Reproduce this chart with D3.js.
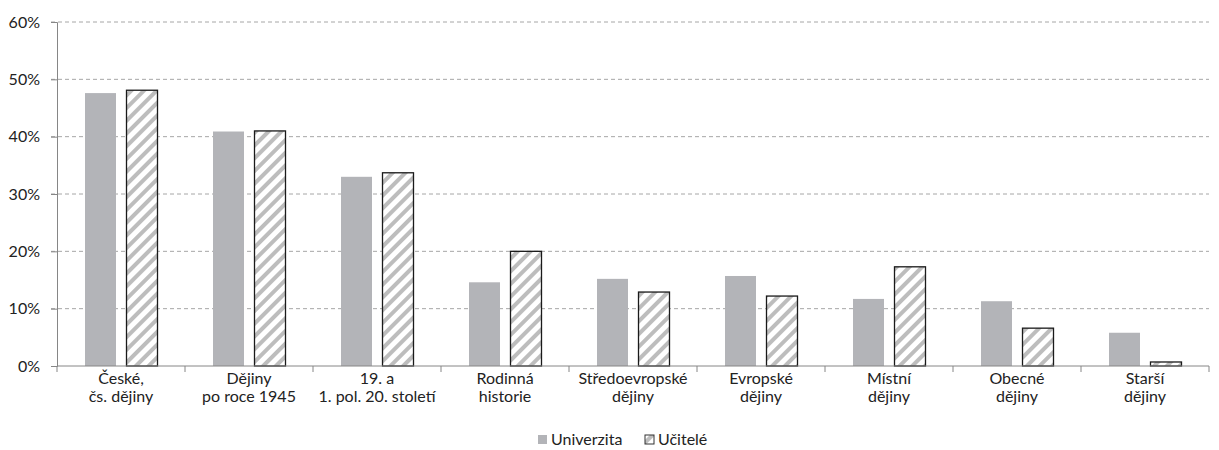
<!DOCTYPE html>
<html>
<head>
<meta charset="utf-8">
<script src="https://cdn.jsdelivr.net/npm/d3@7"></script>
<style>
  body { margin: 0; background: #fff; }
  svg { font-family: Lato, "Open Sans", sans-serif; }
</style>
</head>
<body>
<div id="chart"></div>
<script>
// data
var categories = [
  ["České,", "čs. dějiny"],
  ["Dějiny", "po roce 1945"],
  ["19. a", "1. pol. 20. století"],
  ["Rodinná", "historie"],
  ["Středoevropské", "dějiny"],
  ["Evropské", "dějiny"],
  ["Místní", "dějiny"],
  ["Obecné", "dějiny"],
  ["Starší", "dějiny"]
];
var univerzita = [47.6, 40.9, 33.0, 14.6, 15.2, 15.7, 11.7, 11.3, 5.8];
var ucitele = [48.1, 41.0, 33.7, 20.0, 12.9, 12.2, 17.3, 6.6, 0.7];
var seriesNames = ["Univerzita", "Učitelé"];
var yTicks = [0, 10, 20, 30, 40, 50, 60];

var tot_width = 1219, tot_height = 450;
var margin = {top: 22, right: 10, bottom: 84, left: 57};
var fs = 16;

var svg = d3.select("#chart").append("svg")
    .attr("width", tot_width).attr("height", tot_height);
var width = tot_width - margin.left - margin.right,
    height = tot_height - margin.top - margin.bottom;

var defs = svg.append("defs");
var pat = defs.append("pattern")
    .attr("id", "hatch")
    .attr("patternUnits", "userSpaceOnUse")
    .attr("width", 9).attr("height", 9)
    .attr("patternTransform", "rotate(45)");
pat.append("rect").attr("width", 9).attr("height", 9).attr("fill", "#fff");
pat.append("line")
    .attr("x1", 2).attr("y1", 0).attr("x2", 2).attr("y2", 9)
    .attr("stroke", "#bdbdbd").attr("stroke-width", 4);

var g = svg.append("g")
    .attr("transform", "translate(" + margin.left + "," + margin.top + ")");

var x = d3.scaleBand()
    .domain(d3.range(categories.length))
    .range([0, width]);

var y = d3.scaleLinear()
    .domain([0, 60])
    .range([height, 0]);

// gridlines
g.selectAll("line.grid")
  .data(yTicks.filter(function(d) { return d > 0; }))
  .enter().append("line")
    .attr("class", "grid")
    .attr("x1", -6).attr("x2", width)
    .attr("y1", function(d) { return y(d); })
    .attr("y2", function(d) { return y(d); })
    .attr("stroke", "#a6a6a6")
    .attr("stroke-dasharray", "4,3");

// y axis
var yAxis = g.append("g")
    .call(d3.axisLeft(y).tickValues(yTicks).tickSize(6).tickPadding(11)
      .tickFormat(function(d) { return d + "%"; }));
yAxis.select(".domain").attr("stroke", "#868686");
yAxis.selectAll(".tick line").attr("stroke", "#868686");
yAxis.selectAll("text").attr("font-size", fs).attr("fill", "#222")
    .attr("font-family", "Lato, sans-serif");

var barW = 32;

g.selectAll("rect.univ")
  .data(univerzita)
  .enter().append("rect")
    .attr("class", "univ")
    .attr("x", function(d, i) { return x(i) + x.bandwidth() / 2 - 36; })
    .attr("width", barW - 1)
    .attr("y", function(d) { return y(d); })
    .attr("height", function(d) { return height - y(d); })
    .attr("fill", "#b3b4b8");

g.selectAll("rect.ucit")
  .data(ucitele)
  .enter().append("rect")
    .attr("class", "ucit")
    .attr("x", function(d, i) { return x(i) + x.bandwidth() / 2 + 5.5; })
    .attr("width", barW - 1)
    .attr("y", function(d) { return y(d); })
    .attr("height", function(d) { return height - y(d); })
    .attr("fill", "url(#hatch)")
    .attr("stroke", "#1a1a1a")
    .attr("stroke-width", 1.3);

// x axis
var xAxis = g.append("g")
    .attr("transform", "translate(0," + height + ")");
xAxis.append("line")
    .attr("x1", 0).attr("x2", width)
    .attr("stroke", "#868686");
xAxis.selectAll("line.tk")
  .data(d3.range(categories.length + 1))
  .enter().append("line")
    .attr("class", "tk")
    .attr("x1", function(d) { return d * x.bandwidth(); })
    .attr("x2", function(d) { return d * x.bandwidth(); })
    .attr("y1", 0).attr("y2", 6)
    .attr("stroke", "#868686");

var labels = xAxis.selectAll("text.cat")
  .data(categories)
  .enter().append("text")
    .attr("class", "cat")
    .attr("text-anchor", "middle")
    .attr("font-size", fs)
    .attr("fill", "#222")
    .attr("x", function(d, i) { return x(i) + x.bandwidth() / 2; })
    .attr("y", 18);
labels.selectAll("tspan")
  .data(function(d) { return d; })
  .enter().append("tspan")
    .attr("x", function() { return d3.select(this.parentNode).attr("x"); })
    .attr("dy", function(d, i) { return i === 0 ? 0 : 18; })
    .text(function(d) { return d; });

// legend
var legend = svg.append("g")
    .attr("transform", "translate(538,445)");
legend.append("rect")
    .attr("x", 0).attr("y", -10).attr("width", 9).attr("height", 9)
    .attr("fill", "#b3b4b8");
legend.append("text")
    .attr("x", 13).attr("y", 0)
    .attr("font-size", fs).attr("fill", "#222")
    .text(seriesNames[0]);
legend.append("rect")
    .attr("x", 107).attr("y", -10).attr("width", 9).attr("height", 9)
    .attr("fill", "url(#hatch)")
    .attr("stroke", "#333").attr("stroke-width", 1);
legend.append("text")
    .attr("x", 120).attr("y", 0)
    .attr("font-size", fs).attr("fill", "#222")
    .text(seriesNames[1]);
</script>
</body>
</html>
